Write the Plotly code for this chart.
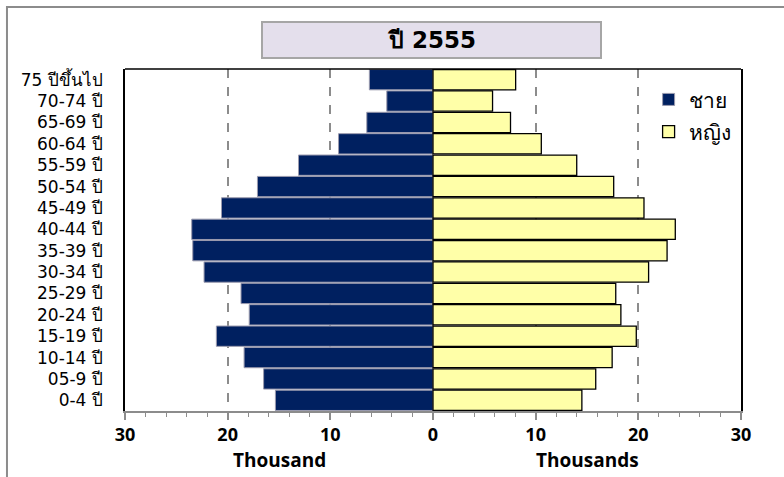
import plotly.graph_objects as go

# Age groups, youngest first (plotted bottom to top)
age_groups = ["0-4 ปี", "05-9 ปี", "10-14 ปี", "15-19 ปี", "20-24 ปี", "25-29 ปี",
              "30-34 ปี", "35-39 ปี", "40-44 ปี", "45-49 ปี", "50-54 ปี", "55-59 ปี",
              "60-64 ปี", "65-69 ปี", "70-74 ปี", "75 ปีขึ้นไป"]

# Population in thousands
male = [15.35, 16.5, 18.4, 21.1, 17.9, 18.7, 22.3, 23.4, 23.5, 20.6, 17.1, 13.1,
        9.2, 6.45, 4.5, 6.2]
female = [14.5, 15.85, 17.45, 19.8, 18.3, 17.8, 21.0, 22.8, 23.6, 20.55, 17.6, 14.0,
          10.55, 7.55, 5.8, 8.05]

x_ticks = [-30, -20, -10, 0, 10, 20, 30]
x_tick_text = ["30", "20", "10", "0", "10", "20", "30"]

fig = go.Figure()
fig.add_trace(go.Bar(
    y=age_groups, x=[-v for v in male], orientation="h", name="ชาย",
    marker=dict(color="#002060", line=dict(color="#9A9AAE", width=1)),
    legendgroup="m",
))
fig.add_trace(go.Bar(
    y=age_groups, x=female, orientation="h", name="หญิง",
    marker=dict(color="#FFFFA8", line=dict(color="#000000", width=1.3)),
    legendgroup="f",
))

fig.update_layout(
    width=784, height=477,
    margin=dict(l=125, r=43, t=69, b=66),
    paper_bgcolor="white", plot_bgcolor="white",
    barmode="relative", bargap=0.05,
    showlegend=True,
    legend=dict(x=0.85, y=0.97, xanchor="left", yanchor="top",
                font=dict(family="DejaVu Sans", size=21, color="#000000"),
                traceorder="grouped", tracegroupgap=2, itemwidth=30,
                bgcolor="rgba(0,0,0,0)"),
    xaxis=dict(
        range=[-30, 30], tickvals=x_ticks, ticktext=x_tick_text,
        tickfont=dict(family="Open Sans", size=18, color="#000000", weight="bold"),
        showgrid=True, gridcolor="#8C8C8C", griddash="dash", gridwidth=1.5,
        zeroline=False,
        showline=True, linecolor="#8C8C8C", linewidth=1.5,
        ticks="outside", ticklen=7, tickcolor="#8C8C8C", tickwidth=1.5,
        minor=dict(dtick=2, ticks="outside", ticklen=4, tickcolor="#8C8C8C",
                   tickwidth=1.2, showgrid=False),
        fixedrange=True,
    ),
    yaxis=dict(
        tickfont=dict(family="DejaVu Sans", size=17, color="#000000"),
        showline=True, linecolor="#000000", linewidth=1.5, mirror=True,
        ticks="", ticklabelstandoff=17,
        showgrid=False, fixedrange=True,
    ),
    shapes=[
        # top edge of the plot frame
        dict(type="line", xref="paper", yref="paper", x0=0, x1=1, y0=1, y1=1,
             line=dict(color="#000000", width=1.5)),
        # outer chart border
        dict(type="rect", xref="paper", yref="paper",
             x0=-0.1916, x1=1.08, y0=-0.231, y1=1.1813,
             line=dict(color="#8C8C8C", width=2), layer="below"),
    ],
    annotations=[
        dict(text="<b>ปี 2555</b>", xref="paper", yref="paper", x=0.498, y=1.0848,
             xanchor="center", yanchor="middle", showarrow=False,
             width=335, height=32, bgcolor="#E4DFEC",
             bordercolor="#A6A6A6", borderwidth=2,
             font=dict(family="DejaVu Sans", size=23, color="#000000")),
        dict(text="<b>Thousand</b>", xref="x", yref="paper", x=-15, y=-0.143,
             xanchor="center", yanchor="middle", showarrow=False,
             font=dict(family="Open Sans", size=19, color="#000000")),
        dict(text="<b>Thousands</b>", xref="x", yref="paper", x=15, y=-0.143,
             xanchor="center", yanchor="middle", showarrow=False,
             font=dict(family="Open Sans", size=19, color="#000000")),
    ],
)

fig.write_html("out.html")
